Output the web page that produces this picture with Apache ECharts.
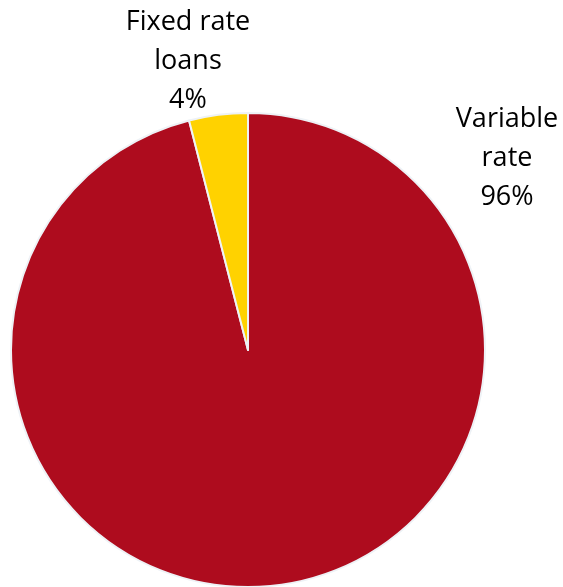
<!DOCTYPE html>
<html>
<head>
<meta charset="utf-8">
<script src="https://cdn.jsdelivr.net/npm/echarts@6/dist/echarts.min.js"></script>
<style>
  html, body { margin: 0; padding: 0; background: #ffffff; }
  #chart { width: 563px; height: 587px; }
</style>
</head>
<body>
<div id="chart"></div>
<script>
// Loan book split by interest rate type
const categories = ['Variable rate', 'Fixed rate loans'];
const shares = [96, 4];
const labelLines = [['Variable', 'rate'], ['Fixed rate', 'loans']];
const colors = ['#AE0C1E', '#FFD200'];
// Label anchor points (centre of each text block)
const labelAnchors = [[507, 158], [188, 61]];

const chart = echarts.init(document.getElementById('chart'), null, { renderer: 'canvas' });

chart.setOption({
  animation: false,
  series: [{
    type: 'pie',
    center: [248, 350],
    radius: [0, 237],
    startAngle: 90,
    clockwise: true,
    data: categories.map((name, i) => ({
      name: name,
      value: shares[i],
      itemStyle: { color: colors[i] }
    })),
    itemStyle: { borderColor: '#EEF2F6', borderWidth: 2 },
    label: {
      show: true,
      position: 'outside',
      formatter: (p) => labelLines[p.dataIndex].join('\n') + '\n' + p.value + '%',
      fontFamily: 'Open Sans',
      fontSize: 27,
      lineHeight: 39,
      color: '#000000',
      align: 'center'
    },
    labelLine: { show: false },
    labelLayout: (p) => ({
      x: labelAnchors[p.dataIndex][0],
      y: labelAnchors[p.dataIndex][1],
      align: 'center',
      verticalAlign: 'middle'
    }),
    emphasis: { disabled: true }
  }]
});
</script>
</body>
</html>
